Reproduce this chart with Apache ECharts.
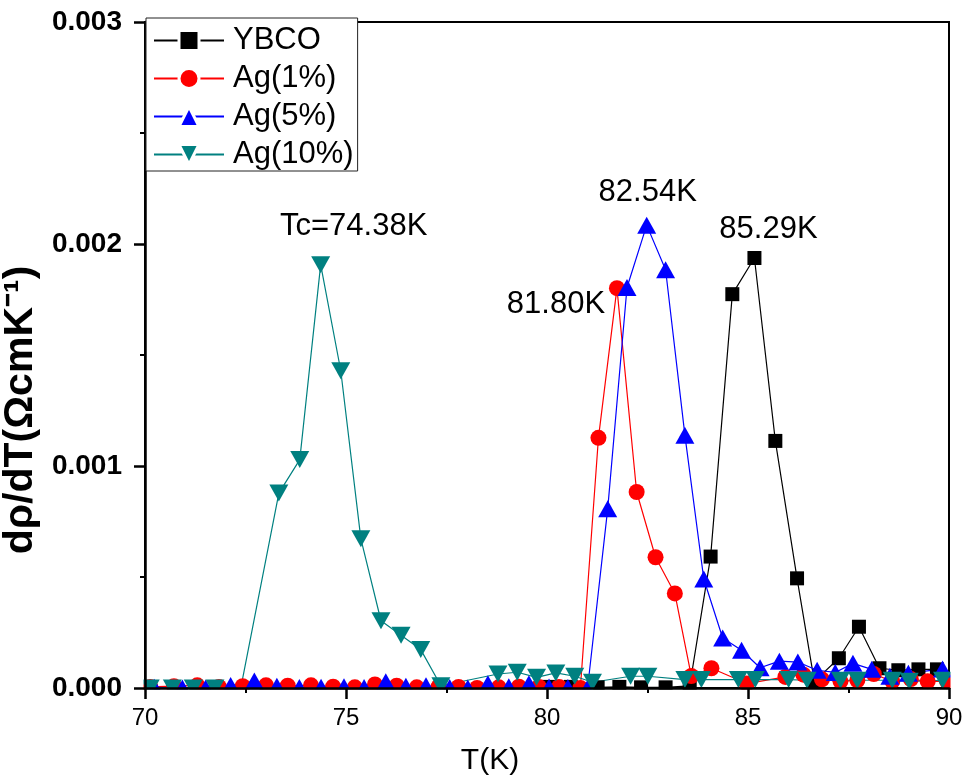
<!DOCTYPE html>
<html><head><meta charset="utf-8">
<script src="https://cdn.jsdelivr.net/npm/echarts@6/dist/echarts.min.js"></script>
<style>html,body{margin:0;padding:0;background:#fff}#c{width:965px;height:780px}</style>
</head><body><div id="c"></div>
<script>
const seriesNames = ['YBCO', 'Ag(1%)', 'Ag(5%)', 'Ag(10%)'];

const tYBCO = [80.05, 80.59, 81.26, 81.8, 82.34, 82.95, 83.55, 84.07, 84.61, 85.16, 85.68, 86.22, 86.65, 87.26, 87.76, 88.27, 88.74, 89.24, 89.7];
const vYBCO = [0.000005, 0.000005, 0.000003, 0.000005, 0.000003, 0.000003, 0.00001, 0.000592, 0.001774, 0.001937, 0.001113, 0.000494, 0.00003, 0.000134, 0.000276, 0.000089, 0.00008, 0.000084, 0.000084];

const tAg1 = [70.13, 70.72, 71.3, 71.84, 72.43, 73.01, 73.55, 74.13, 74.68, 75.22, 75.72, 76.26, 76.76, 77.3, 77.8, 78.26, 78.8, 79.3, 79.8, 80.3, 80.83, 81.28, 81.74, 82.23, 82.7, 83.18, 83.59, 84.09, 84.97, 85.93, 86.38, 86.84, 87.3, 87.72, 88.13, 88.59, 89.05, 89.47, 89.95];
const vAg1 = [0.000005, 0.000008, 0.000012, 0.000005, 0.000008, 0.000012, 0.00001, 0.000012, 0.000006, 0.000003, 0.000016, 0.00001, 0.000003, 0.000005, 0.000005, 0.0, 0.000003, 0.000006, 0.000005, 0.000005, 0.0, 0.001127, 0.001801, 0.000883, 0.000589, 0.000426, 0.000054, 0.000089, 0.00002, 0.00005, 0.00006, 0.000039, 0.00003, 0.000035, 0.000063, 0.00003, 0.00004, 0.00003, 0.00003];

const tAg5 = [70.23, 70.93, 71.51, 72.13, 72.72, 73.28, 73.84, 74.38, 74.95, 75.45, 75.99, 76.49, 76.99, 77.58, 78.03, 78.53, 79.05, 79.55, 80.05, 80.52, 81.01, 81.51, 81.99, 82.48, 82.95, 83.43, 83.9, 84.37, 84.84, 85.3, 85.78, 86.24, 86.72, 87.17, 87.61, 88.08, 88.53, 88.99, 89.84];
const vAg5 = [0.000003, 0.0, 0.0, 0.000011, 0.000031, 0.000008, 0.000002, 0.000003, 0.000006, 0.000002, 0.000028, 0.000008, 0.00001, 0.000002, 0.0, 0.000019, 0.000006, 0.000019, 0.000004, 0.000002, 0.0, 0.000807, 0.001804, 0.002085, 0.001884, 0.001139, 0.000491, 0.000225, 0.00017, 0.000091, 0.000121, 0.000117, 0.00008, 0.00007, 0.000111, 0.000084, 0.000053, 0.000066, 0.000086];

const tAg10 = [70.13, 70.68, 71.2, 71.74, 72.35, 73.33, 73.85, 74.37, 74.87, 75.37, 75.87, 76.37, 76.86, 77.36, 78.78, 79.26, 79.74, 80.22, 80.69, 81.13, 82.08, 82.51, 83.43, 83.84, 84.76, 85.18, 86.01, 86.47, 87.3, 87.72, 88.59, 89.01, 89.84];
const vAg10 = [0.0, 0.0, 0.0, 0.0, -0.00003, 0.000878, 0.001029, 0.001907, 0.001429, 0.000672, 0.000303, 0.000238, 0.000173, 0.00001, 0.000063, 0.000071, 0.000048, 0.000068, 0.000053, 0.000026, 0.000053, 0.000053, 0.000038, 0.000038, 0.000038, 0.000038, 0.000038, 0.000035, 0.000035, 0.000035, 0.000035, 0.00003, 0.000035];

const peakLabels = ['85.29K', '81.80K', '82.54K', 'Tc=74.38K'];
const xTickValues = [70, 75, 80, 85, 90];
const yTickLabels = ['0.000', '0.001', '0.002', '0.003'];

const FONT = '"Liberation Sans", Arial, sans-serif';
const colors = ['#000000', '#ff0000', '#0000ff', '#008080'];
const symbols = ['rect', 'circle', 'triangle', 'triangle'];
const rotations = [0, 0, 0, 180];
const sizes = [14, 16, [19, 17], [19, 17]];
const labelOffsets = [[14, -29], [-61, 16], [1, -33], [33, -38]];

const allT = [tYBCO, tAg1, tAg5, tAg10];
const allV = [vYBCO, vAg1, vAg5, vAg10];

const series = seriesNames.map((name, i) => {
  const t = allT[i], v = allV[i];
  let im = 0;
  v.forEach((val, k) => { if (val > v[im]) im = k; });
  return {
    name: name,
    type: 'line',
    data: t.map((x, k) => [x, v[k]]),
    symbol: symbols[i],
    symbolRotate: rotations[i],
    symbolSize: sizes[i],
    showSymbol: true,
    color: colors[i],
    itemStyle: { color: colors[i] },
    lineStyle: { color: colors[i], width: 1.2 },
    z: 2,
    markPoint: {
      symbol: 'circle',
      symbolSize: 1,
      silent: true,
      itemStyle: { color: 'rgba(0,0,0,0)' },
      label: {
        show: true, position: 'inside', offset: labelOffsets[i],
        formatter: peakLabels[i], color: '#000', fontSize: 31, fontFamily: FONT
      },
      data: [{ coord: [t[im], v[im]] }]
    }
  };
});

const chart = echarts.init(document.getElementById('c'), null, { renderer: 'canvas' });
chart.setOption({
  animation: false,
  backgroundColor: '#fff',
  grid: { left: 145, right: 16, top: 22, bottom: 92, containLabel: false, outerBoundsMode: 'none', show: true, borderColor: '#000', borderWidth: 2, backgroundColor: 'transparent' },
  legend: {
    orient: 'vertical', left: 146, top: 18, z: 20,
    backgroundColor: '#fff', borderColor: '#222', borderWidth: 1,
    padding: [7, 4, 1, 7],
    itemWidth: 70, itemHeight: 25, itemGap: 7,
    itemStyle: { borderColor: '#fff', borderWidth: 3 },
    textStyle: { fontSize: 31, fontFamily: FONT, color: '#000', padding: [0, 0, 0, 4] },
    data: seriesNames
  },
  xAxis: {
    type: 'value', min: xTickValues[0], max: xTickValues[xTickValues.length - 1], interval: 5, z: 10,
    name: 'T(K)', nameLocation: 'middle', nameGap: 58,
    nameTextStyle: { fontSize: 30, fontFamily: FONT, color: '#000', padding: [0, 114, 0, 0] },
    axisLine: { lineStyle: { color: '#000', width: 2.5 } },
    axisTick: { show: true, inside: false, length: 11, lineStyle: { color: '#000', width: 2.5 } },
    minorTick: { show: true, splitNumber: 2, length: 5, lineStyle: { color: '#000', width: 2 } },
    axisLabel: { fontSize: 24, fontFamily: FONT, color: '#000', margin: 18 },
    splitLine: { show: false }
  },
  yAxis: {
    type: 'value', min: 0, max: 0.003, interval: 0.001, z: 10,
    name: 'dρ/dT(ΩcmK⁻¹)', nameLocation: 'middle', nameGap: 95, nameRotate: 90,
    nameTextStyle: { fontSize: 41, fontWeight: 'bold', fontFamily: FONT, color: '#000', padding: [0, 110, 0, 0] },
    axisLine: { lineStyle: { color: '#000', width: 2.5 } },
    axisTick: { show: true, inside: false, length: 11, lineStyle: { color: '#000', width: 2.5 } },
    minorTick: { show: true, splitNumber: 2, length: 5, lineStyle: { color: '#000', width: 2 } },
    axisLabel: {
      fontSize: 28, fontWeight: 'bold', fontFamily: FONT, color: '#000', margin: 23,
      formatter: (val) => yTickLabels[Math.round(val / 0.001)]
    },
    splitLine: { show: false }
  },
  series: series
});

// white masks outside the plot frame so that markers are cut at the frame, like the original
const p0 = chart.convertToPixel({ gridIndex: 0 }, [70, 0]);
const p1 = chart.convertToPixel({ gridIndex: 0 }, [90, 0.003]);
chart.setOption({
  graphic: [
    { type: 'rect', z: 5, silent: true, shape: { x: p0[0] - 16, y: p1[1] - 2, width: 14.5, height: p0[1] - p1[1] + 30 }, style: { fill: '#fff' } },
    { type: 'rect', z: 5, silent: true, shape: { x: p1[0] + 1.5, y: p1[1] - 2, width: 20, height: p0[1] - p1[1] + 30 }, style: { fill: '#fff' } },
    { type: 'rect', z: 5, silent: true, shape: { x: p0[0] - 16, y: p0[1] + 1.5, width: p1[0] - p0[0] + 40, height: 22 }, style: { fill: '#fff' } }
  ]
});
</script>
</body></html>
